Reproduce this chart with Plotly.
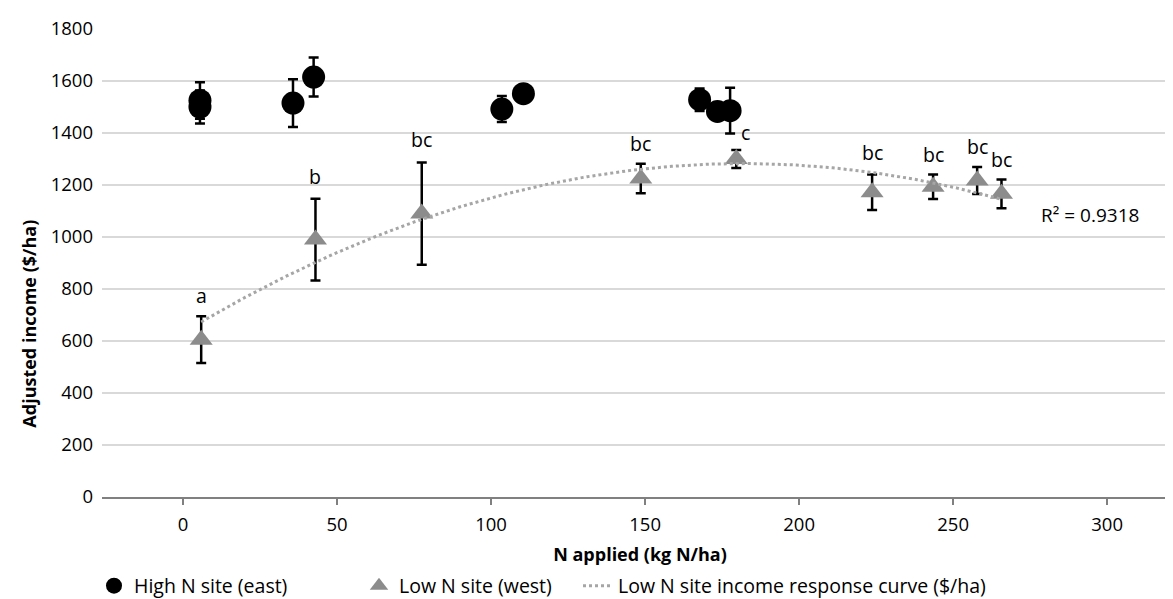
import numpy as np
import plotly.graph_objects as go

# High N site (east)
high_x = [5.5, 5.5, 35.7, 42.4, 103.5, 110.5, 167.7, 173.5, 177.6]
high_y = [1525, 1500, 1515, 1615, 1492, 1551, 1528, 1483, 1486]
high_err = [70, 63, 92, 75, 50, 30, 43, 30, 88]

# Low N site (west)
low_x = [5.9, 43.0, 77.5, 148.6, 179.6, 223.7, 243.5, 257.8, 265.7]
low_y = [605, 990, 1090, 1225, 1300, 1172, 1193, 1217, 1166]
low_err = [90, 157, 197, 57, 35, 68, 47, 52, 55]
low_labels = ["a", "b", "bc", "bc", "c", "bc", "bc", "bc", "bc"]
label_xshift = [0, 0, 0, 0, 9, 0, 0, 0, 0]
label_yshift = [5, 7, 7, 5, 2, 7, 5, 5, 5]

r2_text = "R² = 0.9318"

x_ticks = [0, 50, 100, 150, 200, 250, 300]
y_ticks = [0, 200, 400, 600, 800, 1000, 1200, 1400, 1600, 1800]

FONT = "Open Sans"

# polynomial (order 2) trendline fitted to the low N site data
coef = np.polyfit(low_x, low_y, 2)
fit_x = np.linspace(min(low_x), max(low_x), 200)
fit_y = np.polyval(coef, fit_x)

fig = go.Figure()

fig.add_trace(go.Scatter(
    x=high_x, y=high_y, mode="markers", name="High N site (east)",
    marker=dict(symbol="circle", size=23, color="black"),
    error_y=dict(type="data", array=high_err, color="black", thickness=2.5, width=5),
    legend="legend",
))
fig.add_trace(go.Scatter(
    x=low_x, y=low_y, mode="markers", name="Low N site (west)",
    marker=dict(symbol="triangle-up", size=20, color="#8c8c8c"),
    error_y=dict(type="data", array=low_err, color="black", thickness=2.5, width=5),
    legend="legend2",
))
fig.add_trace(go.Scatter(
    x=fit_x, y=fit_y, mode="lines", name="Low N site income response curve ($/ha)",
    line=dict(color="#a6a6a6", width=3, dash="dot"),
    legend="legend3",
))

for xv, yv, ev, lab, dx, dy in zip(low_x, low_y, low_err, low_labels, label_xshift, label_yshift):
    fig.add_annotation(x=xv, y=yv + ev, text=lab, showarrow=False,
                       xanchor="center", yanchor="bottom", xshift=dx, yshift=dy,
                       font=dict(family=FONT, size=19.5, color="black"))

fig.add_annotation(x=278, y=1085, text=r2_text, showarrow=False, xanchor="left",
                   yanchor="middle", font=dict(family=FONT, size=19, color="black"))

fig.add_annotation(xref="paper", yref="paper", x=-0.068, y=0.37, text="<b>Adjusted income ($/ha)</b>",
                   textangle=-90, showarrow=False, xanchor="center", yanchor="middle",
                   font=dict(family=FONT, size=18, color="black"))

leg_common = dict(xref="container", yref="container", yanchor="middle", y=0.035,
                  orientation="h",
                  bgcolor="rgba(0,0,0,0)", borderwidth=0,
                  font=dict(family=FONT, size=19.5, color="black"))

fig.update_layout(
    width=1173, height=599,
    margin=dict(l=94, r=3, t=21, b=110, autoexpand=False),
    paper_bgcolor="white", plot_bgcolor="white",
    font=dict(family=FONT, size=18, color="black"),
    showlegend=True,
    legend=dict(x=86 / 1173, xanchor="left", **leg_common),
    legend2=dict(x=351 / 1173, xanchor="left", **leg_common),
    legend3=dict(x=570 / 1173, xanchor="left", **leg_common),
    xaxis=dict(
        range=[-26.3, 323], tickmode="array", tickvals=x_ticks,
        showgrid=False, zeroline=False,
        showline=True, linecolor="#808080", linewidth=2,
        ticks="outside", ticklen=6, tickwidth=2, tickcolor="#808080",
        ticklabelstandoff=4,
        tickfont=dict(family=FONT, size=18.5, color="black"),
        title=dict(text="<b>N applied (kg N/ha)</b>", standoff=13,
                   font=dict(family=FONT, size=18, color="black")),
    ),
    yaxis=dict(
        range=[0, 1800], tickmode="array", tickvals=y_ticks,
        showgrid=True, gridcolor="#d9d9d9", gridwidth=1.5,
        zeroline=False, showline=False, ticks="",
        ticklabelstandoff=8,
        tickfont=dict(family=FONT, size=18.5, color="black"),
    ),
)

fig.write_html("out.html")
